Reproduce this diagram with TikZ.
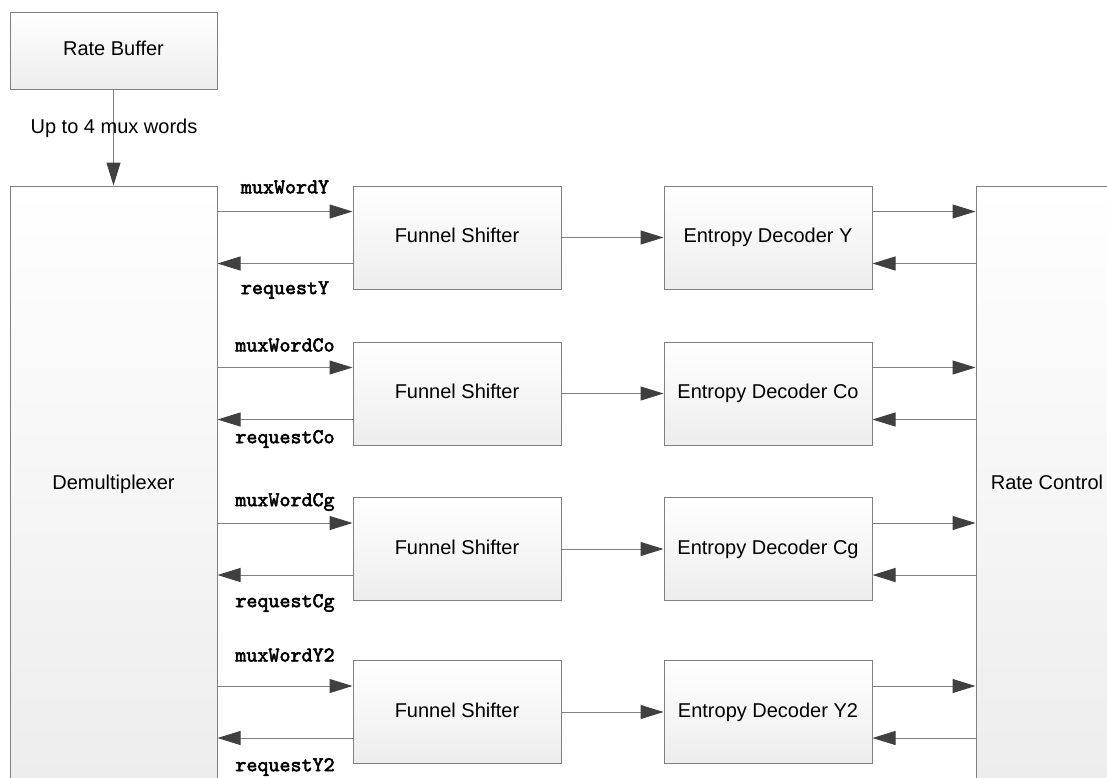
\documentclass[tikz,border=0pt]{standalone}
\usepackage{fontspec}
\setmainfont{Liberation Sans}
\newfontfamily\courbold{lmmono10-regular}[Extension=.otf, FakeBold=2.5]
\usetikzlibrary{arrows.meta,calc}
\definecolor{linec}{HTML}{808080}
\definecolor{tipc}{HTML}{404040}
\definecolor{boxbot}{HTML}{EDEDED}
\begin{document}
\begin{tikzpicture}[x=1pt,y=-1pt,
  blk/.style={draw=linec, line width=1pt, top color=white, bottom color=boxbot,
    inner sep=0pt, minimum width=207pt, minimum height=103pt,
    font=\fontsize{20}{24}\selectfont, text height=14.5pt, text depth=4pt},
  arr/.style={draw=linec, line width=1pt, -{Triangle[length=23pt,width=14pt,color=tipc]}},
  lbl/.style={inner sep=0pt, font=\fontsize{21}{22}\selectfont\courbold},
  note/.style={inner sep=0pt, font=\fontsize{20}{24}\selectfont}]
\useasboundingbox (0,0) rectangle (1107,777);
\clip (0,0) rectangle (1107,777);
\fill[white] (0,0) rectangle (1107,777);

\node[blk, minimum height=77pt] (rb) at (113.5,50.5) {Rate Buffer};
\node[blk, minimum height=596pt] (dm) at (113.5,484) {Demultiplexer};
\node[blk, minimum width=142pt, minimum height=596pt] (rc) at (1047,484) {Rate Control};

\node[blk, minimum width=208pt] (fs1) at (457,237.5) {Funnel Shifter};
\node[blk, minimum width=208pt] (fs2) at (457,393.5) {Funnel Shifter};
\node[blk, minimum width=208pt] (fs3) at (457,549) {Funnel Shifter};
\node[blk, minimum width=208pt] (fs4) at (457,712) {Funnel Shifter};

\node[blk, minimum width=208pt] (ed1) at (768,237.5) {Entropy Decoder Y};
\node[blk, minimum width=208pt] (ed2) at (768,393.5) {Entropy Decoder Co};
\node[blk, minimum width=208pt] (ed3) at (768,549) {Entropy Decoder Cg};
\node[blk, minimum width=208pt] (ed4) at (768,712) {Entropy Decoder Y2};

\draw[arr] (rb.south) -- (dm.north);
\node[note] (upto) at (114,128) {Up to 4 mux words};

\foreach \i/\lu/\ld/\yu/\yd in {1/muxWordY/requestY/187/290,
                               2/muxWordCo/requestCo/345/439,
                               3/muxWordCg/requestCg/502/603,
                               4/muxWordY2/requestY2/655/767} {
  \coordinate (fa) at ($(fs\i.north west)!0.25!(fs\i.south west)$);
  \coordinate (fb) at ($(fs\i.north west)!0.75!(fs\i.south west)$);
  \coordinate (ea) at ($(ed\i.north east)!0.25!(ed\i.south east)$);
  \coordinate (eb) at ($(ed\i.north east)!0.75!(ed\i.south east)$);
  \draw[arr] (dm.east |- fa) -- (fa);
  \draw[arr] (fb) -- (dm.east |- fb);
  \draw[arr] (fs\i.east) -- (ed\i.west);
  \draw[arr] (ea) -- (rc.west |- ea);
  \draw[arr] (rc.west |- eb) -- (eb);
  \node[lbl] (mw\i) at (285,\yu) {\lu};
  \node[lbl] (rq\i) at (285,\yd) {\ld};
}
\end{tikzpicture}
\end{document}
